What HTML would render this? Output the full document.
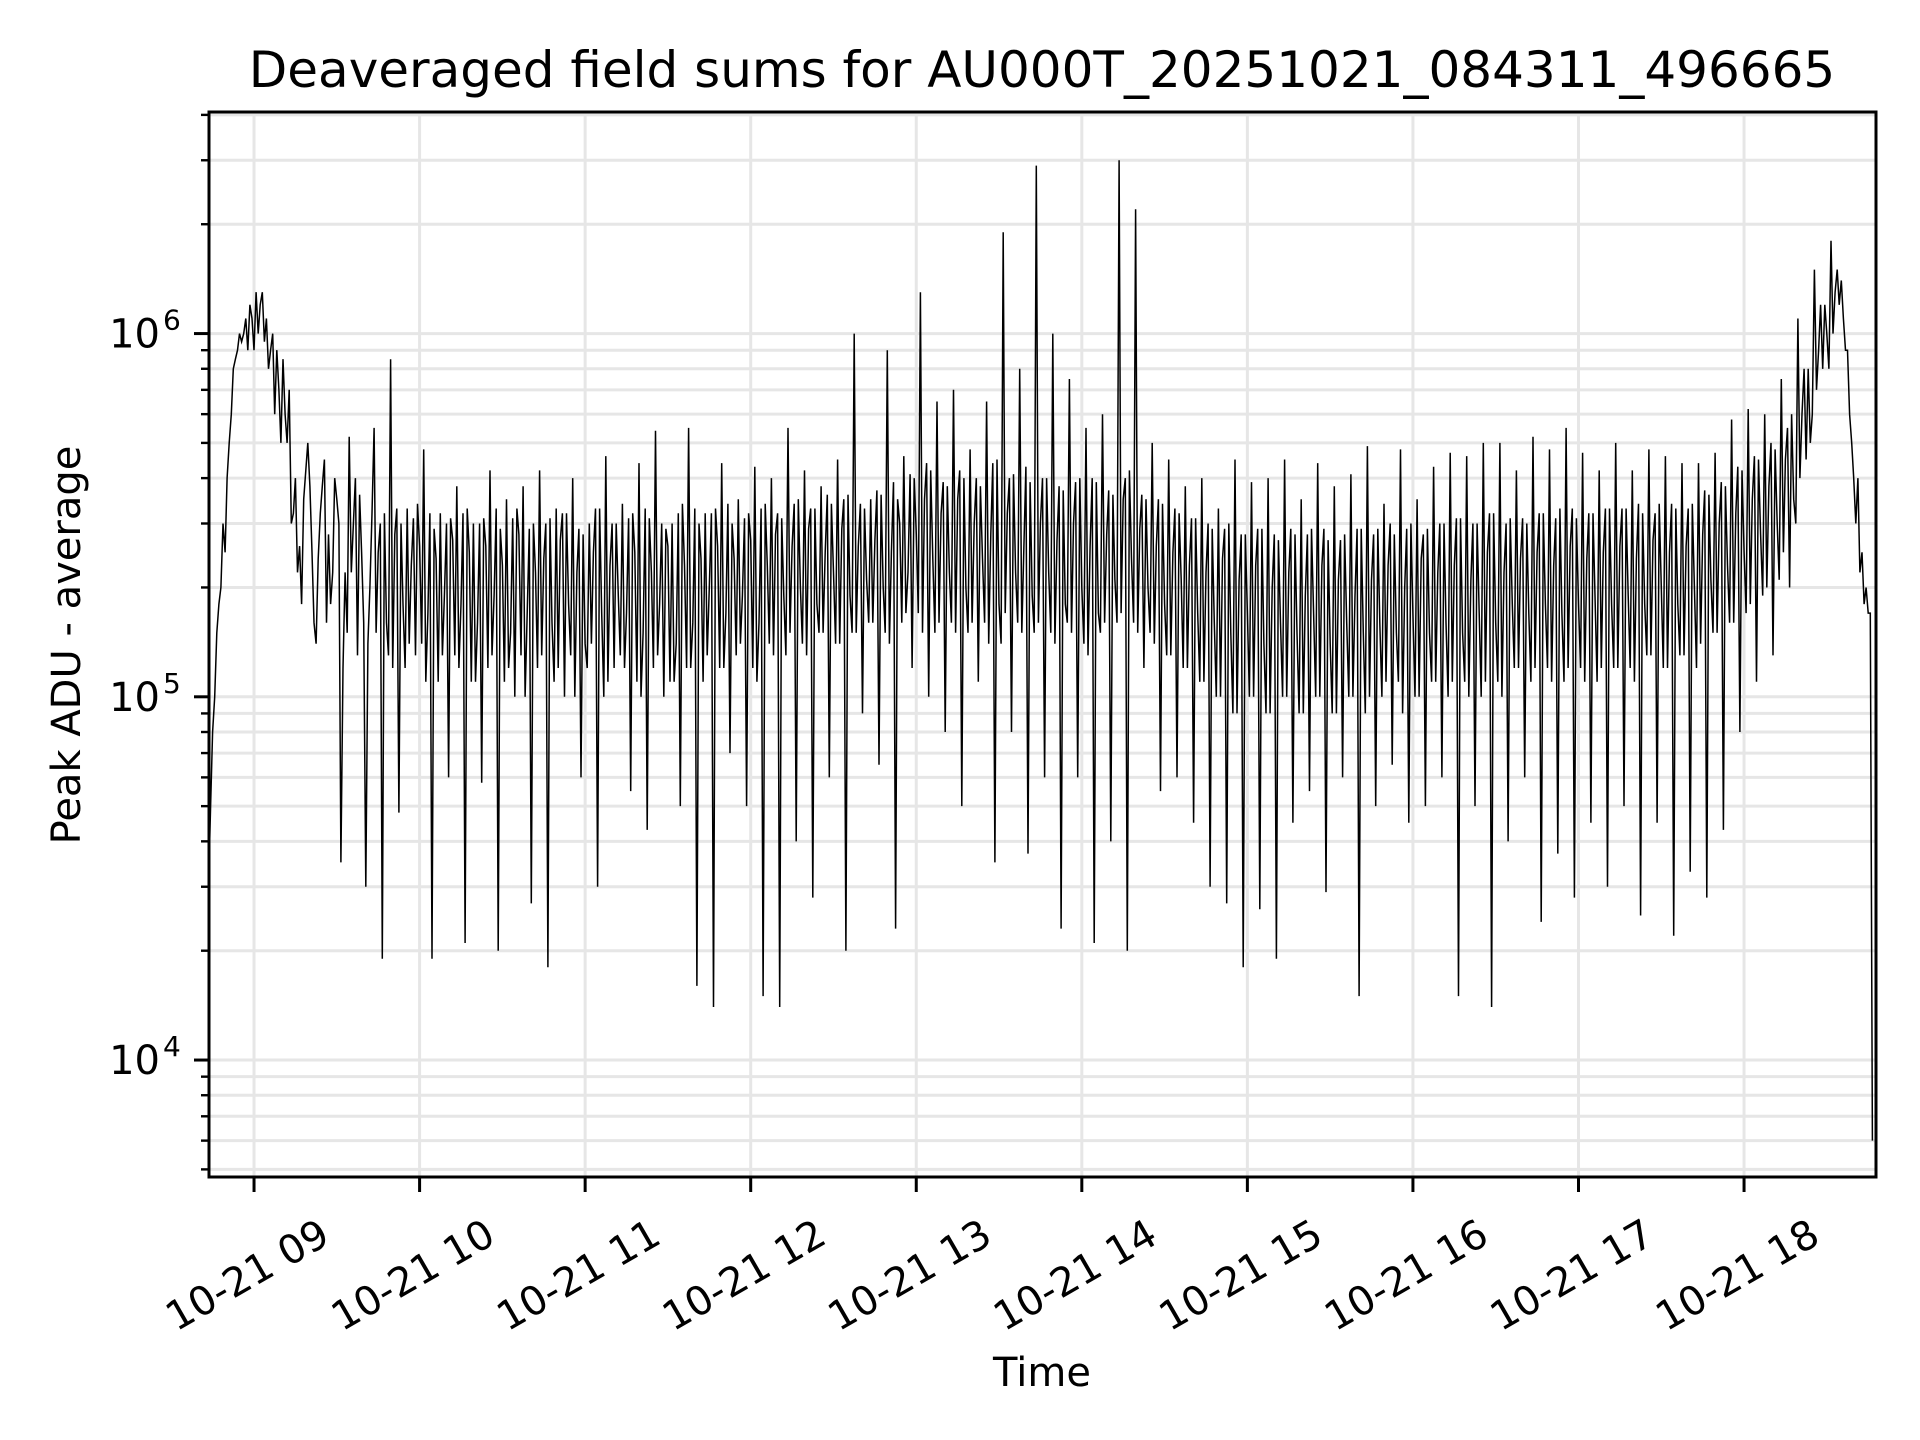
<!DOCTYPE html>
<html>
<head>
<meta charset="utf-8">
<style>
html,body{margin:0;padding:0;background:#fff;}
svg{display:block;}
text{font-family:"DejaVu Sans","Liberation Sans",sans-serif;fill:#000;}
</style>
</head>
<body>
<svg id="chart" width="1920" height="1440" viewBox="0 0 1920 1440" xmlns="http://www.w3.org/2000/svg">
  <rect x="0" y="0" width="1920" height="1440" fill="#fff"/>
  <text x="1042" y="87" font-size="50" text-anchor="middle">Deaveraged field sums for AU000T_20251021_084311_496665</text>
  <g id="grid"></g>
  <g id="series"></g>
  <g id="axes"></g>
  <text x="1042" y="1386" font-size="40" text-anchor="middle">Time</text>
  <text x="0" y="0" font-size="40" text-anchor="middle" transform="translate(80,645) rotate(-90)">Peak ADU - average</text>
</svg>
<script>
// ---- data ----
const startHour = 8.725;      // first sample 08:43.5
const stepHours = 0.05;       // 3-minute cadence for main samples
const xTickHours = [9, 10, 11, 12, 13, 14, 15, 16, 17, 18];
const xTickLabels = ["10-21 09","10-21 10","10-21 11","10-21 12","10-21 13","10-21 14","10-21 15","10-21 16","10-21 17","10-21 18"];
const yMajorExps = [4, 5, 6];
const peakValues = [
  3.0e4, 1.5e5, 2.5e5, 8.0e5, 9.5e5, 1.2e6, 1.0e6, 1.1e6, 6.0e5, 8.5e5,
  3.0e5, 2.6e5, 5.0e5, 1.4e5, 4.5e5, 2.2e5, 3.5e4, 5.2e5, 1.3e5, 3.0e4,
  5.5e5, 1.9e4, 8.5e5, 4.8e4, 3.3e5, 1.3e5, 4.8e5, 1.9e4, 3.2e5, 6.0e4,
  3.8e5, 2.1e4, 3.0e5, 5.8e4, 4.2e5, 2.0e4, 3.5e5, 1.0e5, 3.8e5, 2.7e4,
  4.2e5, 1.8e4, 3.3e5, 1.0e5, 4.0e5, 6.0e4, 3.0e5, 3.0e4, 4.6e5, 1.2e5,
  3.4e5, 5.5e4, 4.4e5, 4.3e4, 5.4e5, 1.0e5, 3.0e5, 5.0e4, 5.5e5, 1.6e4,
  3.2e5, 1.4e4, 4.4e5, 7.0e4, 3.5e5, 5.0e4, 4.3e5, 1.5e4, 4.0e5, 1.4e4,
  5.5e5, 4.0e4, 4.2e5, 2.8e4, 3.8e5, 6.0e4, 4.5e5, 2.0e4, 1.0e6, 9.0e4,
  3.5e5, 6.5e4, 9.0e5, 2.3e4, 4.6e5, 1.2e5, 1.3e6, 1.0e5, 6.5e5, 8.0e4,
  7.0e5, 5.0e4, 4.8e5, 1.1e5, 6.5e5, 3.5e4, 1.9e6, 8.0e4, 8.0e5, 3.7e4,
  2.9e6, 6.0e4, 1.0e6, 2.3e4, 7.5e5, 6.0e4, 5.5e5, 2.1e4, 6.0e5, 4.0e4,
  3.0e6, 2.0e4, 2.2e6, 1.2e5, 5.0e5, 5.5e4, 4.5e5, 6.0e4, 3.8e5, 4.5e4,
  4.0e5, 3.0e4, 3.3e5, 2.7e4, 4.5e5, 1.8e4, 3.9e5, 2.6e4, 4.0e5, 1.9e4,
  4.5e5, 4.5e4, 3.5e5, 5.5e4, 4.4e5, 2.9e4, 3.8e5, 6.0e4, 4.1e5, 1.5e4,
  4.9e5, 5.0e4, 3.4e5, 6.5e4, 4.8e5, 4.5e4, 3.5e5, 5.0e4, 4.3e5, 6.0e4,
  4.7e5, 1.5e4, 4.6e5, 5.0e4, 5.0e5, 1.4e4, 5.0e5, 4.0e4, 4.2e5, 6.0e4,
  5.2e5, 2.4e4, 4.8e5, 3.7e4, 5.5e5, 2.8e4, 4.7e5, 4.5e4, 4.2e5, 3.0e4,
  5.0e5, 5.0e4, 4.2e5, 2.5e4, 4.8e5, 4.5e4, 4.6e5, 2.2e4, 4.4e5, 3.3e4,
  4.4e5, 2.8e4, 4.7e5, 4.3e4, 5.8e5, 8.0e4, 6.2e5, 1.1e5, 6.0e5, 1.3e5,
  7.5e5, 2.0e5, 1.1e6, 4.5e5, 1.5e6, 8.0e5, 1.8e6, 1.2e6, 9.0e5, 3.0e5,
  1.8e5, 6.0e3
];
// samples a quarter of the way between consecutive main samples
const quarterValues = [
  5e4, 1.8e5, 4e5, 8.5e5, 1e6, 1.1e6, 1.2e6, 8e5, 9e5, 6e5,
  3.2e5, 1.8e5, 3.8e5, 2.4e5, 1.6e5, 4e5, 1.2e5, 2.2e5, 3.6e5, 1.4e5,
  1.5e5, 3.2e5, 1.2e5, 3e5, 1.4e5, 3.4e5, 1.1e5, 2.9e5, 1.3e5, 3.1e5,
  1.2e5, 3.3e5, 1.1e5, 3.1e5, 1.3e5, 2.9e5, 1.2e5, 3.3e5, 1e5, 3e5,
  1.3e5, 3.1e5, 1.2e5, 3.2e5, 1e5, 2.8e5, 1.4e5, 3.3e5, 1.1e5, 3e5,
  1.2e5, 3.2e5, 1e5, 3.1e5, 1.3e5, 2.9e5, 1.1e5, 3.4e5, 1.2e5, 3e5,
  1.3e5, 3.3e5, 1.2e5, 3e5, 1.4e5, 3.2e5, 1.1e5, 3.4e5, 1.3e5, 3.1e5,
  1.5e5, 3.5e5, 1.3e5, 3.3e5, 1.5e5, 3.4e5, 1.4e5, 3.6e5, 1.5e5, 3.3e5,
  1.6e5, 3.6e5, 1.4e5, 3.5e5, 1.7e5, 4e5, 1.5e5, 4.2e5, 1.6e5, 3.8e5,
  1.5e5, 4e5, 1.6e5, 3.8e5, 1.4e5, 4.5e5, 1.7e5, 4.1e5, 1.5e5, 3.9e5,
  1.6e5, 4e5, 1.4e5, 3.7e5, 1.5e5, 4e5, 1.3e5, 3.9e5, 1.6e5, 3.6e5,
  1.7e5, 4.2e5, 1.5e5, 3.5e5, 1.4e5, 3.4e5, 1.3e5, 3.2e5, 1.2e5, 3.1e5,
  1.1e5, 2.9e5, 1e5, 3e5, 9e4, 2.8e5, 1e5, 2.9e5, 9e4, 2.7e5,
  1e5, 2.8e5, 9e4, 2.9e5, 1e5, 2.7e5, 9e4, 2.8e5, 1e5, 2.9e5,
  1e5, 2.9e5, 1.1e5, 2.8e5, 9e4, 3e5, 1e5, 2.9e5, 1.1e5, 3e5,
  1.1e5, 3.1e5, 1e5, 3e5, 1.1e5, 3.2e5, 1e5, 3.1e5, 1.2e5, 3e5,
  1.2e5, 3.2e5, 1.1e5, 3.3e5, 1.2e5, 3.1e5, 1.1e5, 3.2e5, 1.2e5, 3.3e5,
  1.2e5, 3.3e5, 1.1e5, 3.2e5, 1.3e5, 3.4e5, 1.2e5, 3.3e5, 1.3e5, 3.4e5,
  1.4e5, 3.6e5, 1.5e5, 3.8e5, 1.6e5, 4.2e5, 1.8e5, 4.5e5, 2e5, 4.8e5,
  2.5e5, 6e5, 4e5, 8e5, 7e5, 1.2e6, 1e6, 1.4e6, 6e5, 4e5,
  2e5
];
// samples halfway between consecutive main samples
const midValues = [
  8.0e4, 2.0e5, 5.0e5, 9.0e5, 1.1e6, 9.0e5, 1.3e6, 9.0e5, 7.0e5, 5.0e5,
  4.0e5, 3.5e5, 2.5e5, 3.2e5, 2.8e5, 3.5e5, 2.2e5, 3.0e5, 2.5e5, 2.0e5,
  2.5e5, 1.6e5, 2.8e5, 1.8e5, 2.3e5, 2.6e5, 1.7e5, 2.4e5, 1.9e5, 2.7e5,
  1.8e5, 2.5e5, 1.6e5, 2.6e5, 1.9e5, 2.3e5, 1.5e5, 2.8e5, 1.7e5, 2.2e5,
  2.4e5, 1.6e5, 2.7e5, 1.8e5, 2.2e5, 1.4e5, 2.5e5, 1.7e5, 2.3e5, 1.9e5,
  1.7e5, 2.5e5, 1.5e5, 2.2e5, 1.8e5, 2.6e5, 1.4e5, 2.3e5, 1.6e5, 2.4e5,
  2.0e5, 2.6e5, 1.7e5, 2.4e5, 1.9e5, 2.7e5, 1.6e5, 2.3e5, 2.8e5, 1.9e5,
  2.6e5, 2.0e5, 2.9e5, 1.8e5, 2.5e5, 2.2e5, 2.9e5, 1.9e5, 2.6e5, 2.1e5,
  2.7e5, 2.0e5, 2.5e5, 3.0e5, 2.2e5, 2.8e5, 3.5e5, 2.4e5, 3.2e5, 2.2e5,
  3.5e5, 2.0e5, 3.0e5, 2.4e5, 2.8e5, 1.8e5, 3.2e5, 2.2e5, 2.6e5, 1.9e5,
  3.0e5, 2.2e5, 2.7e5, 1.8e5, 3.0e5, 2.0e5, 2.6e5, 1.7e5, 2.8e5, 2.1e5,
  3.5e5, 2.4e5, 2.9e5, 2.0e5, 2.6e5, 1.8e5, 2.5e5, 2.1e5, 2.3e5, 1.7e5,
  2.2e5, 1.6e5, 2.4e5, 1.5e5, 2.1e5, 1.7e5, 2.3e5, 1.4e5, 2.0e5, 1.6e5,
  2.2e5, 1.5e5, 1.9e5, 1.7e5, 2.3e5, 1.4e5, 2.1e5, 1.6e5, 1.9e5, 1.5e5,
  2.1e5, 1.6e5, 2.3e5, 1.5e5, 2.0e5, 1.7e5, 2.4e5, 1.5e5, 2.2e5, 1.6e5,
  2.3e5, 1.5e5, 2.1e5, 1.7e5, 2.5e5, 1.6e5, 2.2e5, 1.8e5, 2.4e5, 1.7e5,
  2.5e5, 1.8e5, 2.3e5, 1.7e5, 2.6e5, 1.8e5, 2.4e5, 1.9e5, 2.5e5, 1.8e5,
  2.6e5, 1.9e5, 2.4e5, 1.8e5, 2.7e5, 2.0e5, 2.5e5, 1.8e5, 2.6e5, 2.0e5,
  2.8e5, 2.1e5, 3.0e5, 2.3e5, 3.2e5, 2.5e5, 3.5e5, 2.8e5, 3.8e5, 3.0e5,
  4.5e5, 3.5e5, 6.0e5, 5.0e5, 9.0e5, 1.0e6, 1.3e6, 1.1e6, 5.0e5, 2.2e5,
  1.7e5
];
// samples three quarters of the way between consecutive main samples
const threeQuarterValues = [
  1e5, 3e5, 6e5, 1e6, 9e5, 1.3e6, 9.5e5, 1e6, 5e5, 7e5,
  2.2e5, 4.2e5, 1.6e5, 3.8e5, 1.8e5, 3e5, 1.5e5, 4e5, 1.6e5, 3.2e5,
  3e5, 1.3e5, 3.3e5, 1.2e5, 3.1e5, 1.4e5, 3.2e5, 1.1e5, 3e5, 1.3e5,
  3.2e5, 1.1e5, 3e5, 1.2e5, 3.3e5, 1.1e5, 3.1e5, 1.3e5, 2.9e5, 1.2e5,
  3e5, 1.1e5, 3.2e5, 1.3e5, 2.9e5, 1.2e5, 3.3e5, 1e5, 3e5, 1.3e5,
  3.1e5, 1.1e5, 3.3e5, 1.2e5, 3e5, 1.1e5, 3.2e5, 1.2e5, 3.3e5, 1.1e5,
  3.2e5, 1.2e5, 3.4e5, 1.3e5, 3.1e5, 1.2e5, 3.3e5, 1.4e5, 3.2e5, 1.3e5,
  3.4e5, 1.4e5, 3.3e5, 1.5e5, 3.6e5, 1.4e5, 3.5e5, 1.5e5, 3.4e5, 1.6e5,
  3.7e5, 1.5e5, 3.9e5, 1.6e5, 4.1e5, 1.7e5, 4.4e5, 1.5e5, 3.9e5, 1.6e5,
  4.2e5, 1.5e5, 4e5, 1.6e5, 4.4e5, 1.4e5, 4e5, 1.6e5, 4.3e5, 1.5e5,
  4e5, 1.5e5, 3.8e5, 1.6e5, 3.9e5, 1.4e5, 4e5, 1.5e5, 3.7e5, 1.6e5,
  4e5, 1.6e5, 3.6e5, 1.5e5, 3.5e5, 1.3e5, 3.3e5, 1.2e5, 3.1e5, 1.1e5,
  3e5, 1e5, 2.9e5, 9e4, 2.8e5, 1e5, 2.9e5, 9e4, 2.8e5, 1e5,
  2.9e5, 9e4, 2.8e5, 1e5, 2.9e5, 9e4, 2.7e5, 1e5, 2.9e5, 9e4,
  2.8e5, 1e5, 3e5, 1.1e5, 2.9e5, 1e5, 2.8e5, 1.1e5, 3e5, 1e5,
  3.1e5, 1.1e5, 3e5, 1e5, 3.2e5, 1.1e5, 3e5, 1.2e5, 3.1e5, 1.1e5,
  3.2e5, 1.2e5, 3.1e5, 1.1e5, 3.3e5, 1.2e5, 3.2e5, 1.1e5, 3.3e5, 1.2e5,
  3.3e5, 1.2e5, 3.4e5, 1.3e5, 3.2e5, 1.2e5, 3.4e5, 1.3e5, 3.3e5, 1.2e5,
  3.7e5, 1.5e5, 3.9e5, 1.6e5, 4.3e5, 1.7e5, 4.6e5, 1.9e5, 5e5, 2.1e5,
  5.5e5, 3e5, 8e5, 6e5, 1.2e6, 8e5, 1.5e6, 9e5, 4e5, 2.5e5,
  1.7e5
];

// ---- layout ----
const L = 209, R = 1876, T = 112, B = 1177;
const xMin = 8.728, xMax = 18.797;
const yMinExp = 3.678, yMaxExp = 6.610;
const NS = "http://www.w3.org/2000/svg";
function xScale(h){ return L + (h - xMin) / (xMax - xMin) * (R - L); }
function yScale(v){ return B - (Math.log10(v) - yMinExp) / (yMaxExp - yMinExp) * (B - T); }
function mk(tag, attrs, parent){
  const e = document.createElementNS(NS, tag);
  for (const k in attrs) e.setAttribute(k, attrs[k]);
  parent.appendChild(e);
  return e;
}
const grid = document.getElementById('grid');
const axes = document.getElementById('axes');
const series = document.getElementById('series');

for (let e = 3; e <= 6; e++) {
  for (let m = 1; m <= 9; m++) {
    const v = m * Math.pow(10, e);
    const le = Math.log10(v);
    if (le < yMinExp || le > yMaxExp) continue;
    const y = yScale(v);
    const gl = mk('line', {x1: L, x2: R, y1: y, y2: y, stroke: '#e6e6e6', 'stroke-width': 3}, grid);
    
    
    const major = (m === 1);
    const tk = mk('line', {x1: L - (major ? 15 : 8), x2: L, y1: y, y2: y, stroke: '#000', 'stroke-width': major ? 3 : 2.4}, axes);
    
    
  }
}
yMajorExps.forEach(function(e){
  const y = yScale(Math.pow(10, e));
  const t = mk('text', {x: 160, y: y + 14, 'font-size': 40, 'text-anchor': 'end'}, axes);
  t.textContent = '10';
  
  
  const s = mk('text', {x: 163, y: y - 4, 'font-size': 28, 'text-anchor': 'start'}, axes);
  s.textContent = String(e);
  
  
});

xTickHours.forEach(function(h, i){
  const x = xScale(h);
  const gl = mk('line', {x1: x, x2: x, y1: T, y2: B, stroke: '#e6e6e6', 'stroke-width': 3}, grid);
  
  
  const tk = mk('line', {x1: x, x2: x, y1: B, y2: B + 15, stroke: '#000', 'stroke-width': 3}, axes);
  
  
  const t = mk('text', {x: 0, y: 0, 'font-size': 40, 'text-anchor': 'end', transform: 'translate(' + (x + 78) + ',1242) rotate(-30)'}, axes);
  t.textContent = xTickLabels[i];
  
  
});

// merge all samples in time order
const pts = [];
peakValues.forEach(function(v, i){
  pts.push([startHour + i * stepHours, v]);
  if (i < peakValues.length - 1) {
    if (i < quarterValues.length) pts.push([startHour + (i + 0.25) * stepHours, quarterValues[i]]);
    if (i < midValues.length) pts.push([startHour + (i + 0.5) * stepHours, midValues[i]]);
    if (i < threeQuarterValues.length) pts.push([startHour + (i + 0.75) * stepHours, threeQuarterValues[i]]);
  }
});
let d = '';
pts.forEach(function(p, i){
  d += (i === 0 ? 'M' : 'L') + xScale(p[0]).toFixed(1) + ',' + yScale(p[1]).toFixed(1);
});
const path = mk('path', {d: d, fill: 'none', stroke: '#000', 'stroke-width': 1.5}, series);



const frame = mk('rect', {x: L, y: T, width: R - L, height: B - T, fill: 'none', stroke: '#000', 'stroke-width': 3}, axes);


</script>
</body>
</html>
